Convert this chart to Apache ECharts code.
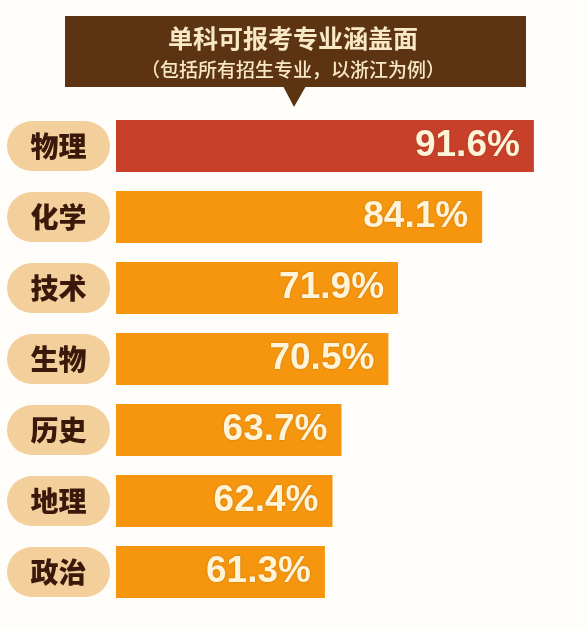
<!DOCTYPE html>
<html>
<head>
<meta charset="utf-8">
<script src="https://cdn.jsdelivr.net/npm/echarts@6/dist/echarts.min.js"></script>
<style>
  html, body { margin: 0; padding: 0; background: #fffdfa; }
  #chart { width: 587px; height: 629px; }
</style>
</head>
<body>
<div id="chart"></div>
<script>
// Single-subject coverage of majors (Zhejiang). Horizontal bars, first one highlighted.
const subjects = ['物理', '化学', '技术', '生物', '历史', '地理', '政治'];
const coverage = [91.6, 84.1, 71.9, 70.5, 63.7, 62.4, 61.3];
const titleText = '单科可报考专业涵盖面';
const subText = '（包括所有招生专业，以浙江为例）';

const RED = '#c8402a';
const ORANGE = '#f5960e';
const CJK = '"Noto Sans CJK SC", "Noto Sans", sans-serif';

const chart = echarts.init(document.getElementById('chart'));

chart.setOption({
  backgroundColor: '#fffdfa',
  animation: false,
  grid: { left: 116, right: 9, top: 110.5, bottom: 21.5 },
  xAxis: {
    type: 'value',
    min: 31,
    max: 98,
    show: false,
  },
  yAxis: {
    type: 'category',
    inverse: true,
    data: subjects,
    axisLine: { show: false },
    axisTick: { show: false },
    axisLabel: {
      margin: 6,
      formatter: (v) => '{p|' + v + '}',
      rich: {
        p: {
          width: 103,
          height: 50,
          align: 'center',
          verticalAlign: 'middle',
          backgroundColor: '#f3cf9c',
          borderRadius: 25,
          color: '#3a190b',
          fontSize: 28,
          fontWeight: 900,
          fontFamily: CJK,
        },
      },
    },
  },
  series: [
    {
      type: 'bar',
      barWidth: 52,
      data: coverage.map((v, i) => ({
        value: v,
        itemStyle: { color: i === 0 ? RED : ORANGE },
      })),
      label: {
        show: true,
        position: 'insideRight',
        distance: 14,
        formatter: '{c}%',
        color: '#fff4d8',
        fontSize: 37,
        fontWeight: 'bold',
        fontFamily: '"Liberation Sans", Arial, sans-serif',
        textShadowColor: 'rgba(100,45,0,0.35)',
        textShadowBlur: 2,
      },
    },
  ],
  graphic: [
    {
      type: 'rect',
      shape: { x: 65, y: 16, width: 461, height: 71 },
      style: { fill: '#5c3412' },
    },
    {
      type: 'polygon',
      shape: { points: [[283, 86], [306, 86], [294, 107]] },
      style: { fill: '#5c3412' },
    },
    {
      type: 'text',
      x: 293,
      y: 38,
      style: {
        text: titleText,
        align: 'center',
        verticalAlign: 'middle',
        fill: '#f8e8c6',
        fontSize: 25,
        fontWeight: 'bold',
        fontFamily: CJK,
      },
    },
    {
      type: 'text',
      x: 293,
      y: 70,
      style: {
        text: subText,
        align: 'center',
        verticalAlign: 'middle',
        fill: '#f8e8c6',
        fontSize: 19,
        fontWeight: 500,
        fontFamily: CJK,
      },
    },
  ],
});
</script>
</body>
</html>
